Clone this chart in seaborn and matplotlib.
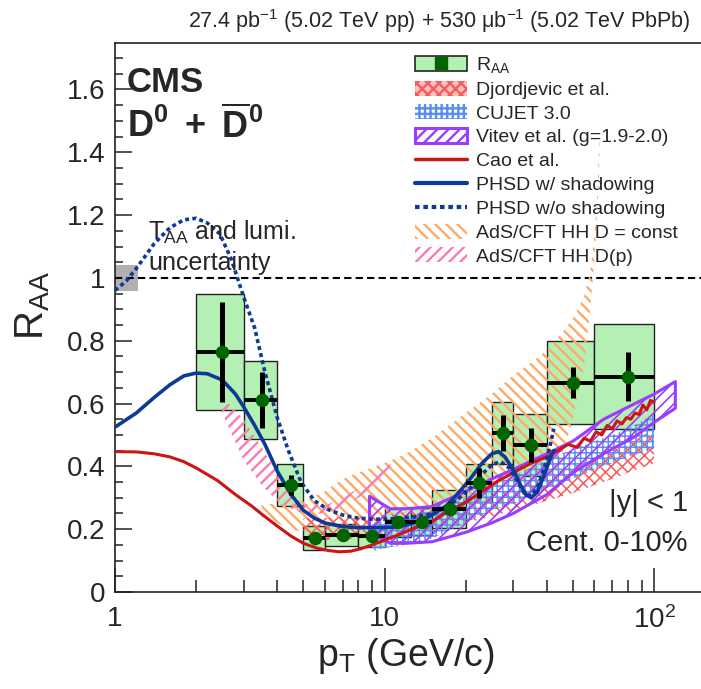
import numpy as np
import pandas as pd
import matplotlib
matplotlib.use("Agg")
import matplotlib.pyplot as plt
import seaborn as sns
from matplotlib.patches import Patch
from matplotlib.lines import Line2D
from matplotlib.ticker import FixedLocator, FixedFormatter, NullFormatter

# ---------------- data ----------------
# CMS D0 R_AA, PbPb 0-10%
pt_lo = [2, 3, 4, 5, 6, 8, 10, 12.5, 15, 20, 25, 30, 40, 60]
pt_hi = [3, 4, 5, 6, 8, 10, 12.5, 15, 20, 25, 30, 40, 60, 100]
raa = [0.764, 0.611, 0.341, 0.172, 0.180, 0.177, 0.222, 0.224, 0.265, 0.347, 0.506, 0.468, 0.667, 0.686]
raa_stat = [0.16, 0.09, 0.033, 0.01, 0.01, 0.01, 0.015, 0.015, 0.02, 0.048, 0.057, 0.054, 0.048, 0.078]
raa_syst = [0.185, 0.124, 0.067, 0.037, 0.035, 0.034, 0.046, 0.043, 0.06, 0.061, 0.1, 0.1, 0.132, 0.168]

# T_AA + lumi uncertainty box
taa_pt = [1.0, 1.215]
taa_lo = 0.958
taa_hi = 1.042

# AdS/CFT HH D = const (orange band)
ads_pt = [3.5, 4, 4.5, 5, 6, 7, 8, 10, 12, 15, 20, 25, 30, 35, 40, 45, 50, 55, 58, 60, 61.5, 62.5, 63]
ads_lo = [0.24, 0.22, 0.2, 0.19, 0.19, 0.195, 0.2, 0.21, 0.22, 0.25, 0.3, 0.33, 0.34, 0.32, 0.32, 0.42, 0.55, 0.72, 0.9, 1.05, 1.2, 1.32, 1.46]
ads_hi = [0.28, 0.28, 0.28, 0.29, 0.32, 0.36, 0.38, 0.41, 0.44, 0.49, 0.57, 0.63, 0.69, 0.73, 0.77, 0.82, 0.87, 0.94, 1.02, 1.13, 1.25, 1.42, 1.47]

# AdS/CFT HH D(p) (pink band)
adsp_pt = [2.5, 3, 3.5, 4, 4.5, 5, 6, 7, 8, 9, 10, 10.5]
adsp_lo = [0.57, 0.42, 0.34, 0.29, 0.265, 0.25, 0.25, 0.27, 0.3, 0.33, 0.36, 0.38]
adsp_hi = [0.62, 0.55, 0.46, 0.38, 0.31, 0.28, 0.275, 0.3, 0.33, 0.36, 0.39, 0.41]

# Djordjevic et al.
dj_pt = [5, 6, 7, 8, 10, 12, 15, 20, 25, 30, 40, 50, 60, 70, 80, 100]
dj_lo = [0.165, 0.165, 0.168, 0.17, 0.18, 0.19, 0.2, 0.22, 0.24, 0.26, 0.29, 0.315, 0.34, 0.36, 0.38, 0.41]
dj_hi = [0.235, 0.235, 0.24, 0.24, 0.245, 0.255, 0.27, 0.29, 0.31, 0.33, 0.37, 0.4, 0.43, 0.45, 0.47, 0.52]

# CUJET 3.0
cu_pt = [9, 10, 12, 15, 20, 25, 30, 40, 50, 60, 70, 80, 100]
cu_lo = [0.13, 0.14, 0.15, 0.17, 0.22, 0.26, 0.28, 0.33, 0.36, 0.39, 0.41, 0.43, 0.455]
cu_hi = [0.22, 0.23, 0.24, 0.26, 0.3, 0.34, 0.37, 0.42, 0.455, 0.48, 0.5, 0.52, 0.565]

# Vitev et al.
vi_pt = [8.8, 10.5, 12, 15, 20, 25, 30, 40, 50, 65, 85, 100, 120]
vi_lo = [0.19, 0.155, 0.155, 0.16, 0.19, 0.22, 0.25, 0.31, 0.38, 0.44, 0.495, 0.54, 0.585]
vi_hi = [0.305, 0.265, 0.265, 0.272, 0.32, 0.36, 0.39, 0.44, 0.48, 0.55, 0.6, 0.63, 0.67]

# Cao et al.
cao_pt = [1, 1.2, 1.4, 1.6, 1.8, 2.0, 2.4, 2.8, 3.2, 3.6, 4.0, 4.5, 5.0, 5.6, 6.2, 6.8, 7.5, 8.2, 9.0,
          10, 11.5, 13, 15, 17.5, 20, 23, 26, 30, 35, 40, 44, 48, 52, 55, 58, 61, 64, 67, 70, 73, 76,
          79, 82, 85, 88, 91, 94, 97, 100]
cao_raa = [0.447, 0.446, 0.44, 0.43, 0.415, 0.395, 0.355, 0.31, 0.275, 0.24, 0.21, 0.178, 0.155, 0.14,
           0.132, 0.128, 0.13, 0.138, 0.15, 0.165, 0.185, 0.205, 0.225, 0.26, 0.285, 0.32, 0.35, 0.38,
           0.41, 0.43, 0.45, 0.47, 0.46, 0.49, 0.48, 0.51, 0.5, 0.53, 0.52, 0.545, 0.535, 0.555, 0.55,
           0.57, 0.565, 0.595, 0.58, 0.61, 0.605]

# PHSD with shadowing
phs_pt = [1.0, 1.2, 1.4, 1.6, 1.8, 2.0, 2.2, 2.5, 2.8, 3.0, 3.3, 3.6, 4.0, 4.5, 5.0, 5.5, 6.0, 7.0, 8.0,
          9.0, 10, 11, 12, 13, 15, 17, 19, 21, 23, 25, 26.5, 28, 30, 32, 33.5, 35, 37, 39, 41, 42.5]
phs_raa = [0.525, 0.57, 0.62, 0.66, 0.688, 0.697, 0.695, 0.675, 0.63, 0.59, 0.53, 0.47, 0.385, 0.31,
           0.26, 0.235, 0.22, 0.208, 0.205, 0.205, 0.205, 0.207, 0.213, 0.222, 0.245, 0.275, 0.32,
           0.365, 0.41, 0.44, 0.447, 0.43, 0.39, 0.34, 0.31, 0.3, 0.32, 0.37, 0.42, 0.45]

# PHSD without shadowing
phn_pt = [1.0, 1.1, 1.2, 1.4, 1.6, 1.8, 2.0, 2.2, 2.45, 2.7, 3.0, 3.3, 3.6, 4.0, 4.4, 4.9, 5.5, 6.2,
          7, 8, 9, 10, 11.5, 13, 15, 17, 19, 21, 23, 25, 27, 29, 31, 33, 35, 37, 39, 41, 42.5]
phn_raa = [0.96, 0.99, 1.03, 1.11, 1.16, 1.185, 1.19, 1.175, 1.14, 1.06, 0.94, 0.84, 0.70, 0.555,
           0.45, 0.35, 0.29, 0.262, 0.245, 0.235, 0.232, 0.232, 0.235, 0.24, 0.25, 0.27, 0.3, 0.335,
           0.375, 0.405, 0.415, 0.395, 0.355, 0.315, 0.305, 0.335, 0.39, 0.46, 0.52]

xtick_vals = [1, 10, 100]
xtick_labels = ["1", "10", "$10^{2}$"]
ytick_vals = [0, 0.2, 0.4, 0.6, 0.8, 1.0, 1.2, 1.4, 1.6]
ytick_labels = ["0", "0.2", "0.4", "0.6", "0.8", "1", "1.2", "1.4", "1.6"]

# ---------------- style ----------------
sns.set_theme(style="ticks")
plt.rcParams["font.family"] = ["Liberation Sans", "DejaVu Sans"]
plt.rcParams["mathtext.fontset"] = "custom"
plt.rcParams["mathtext.rm"] = "Liberation Sans"
plt.rcParams["mathtext.it"] = "Liberation Sans:italic"
plt.rcParams["mathtext.bf"] = "Liberation Sans:bold"
plt.rcParams["mathtext.sf"] = "Liberation Sans"
plt.rcParams["mathtext.default"] = "regular"

W, H = 701, 689
fig = plt.figure(figsize=(W / 100, H / 100), dpi=100)
fx = lambda px: px / W
fy = lambda py: 1 - py / H

ax = fig.add_axes([fx(115), fy(592), fx(701) - fx(115), fy(43) - fy(592)])
ax.set_xscale("log")
ax.set_xlim(1, 149.4)
ax.set_ylim(0, 1.748)

C_BOX = "#b4f0b4"
C_MARK = "#006400"
C_ORANGE = "#fcaa68"
C_PINK = "#ff78b4"
C_RED = "#f85a5a"
C_CUJET = "#5a8cf5"
C_VITEV = "#9b3cff"
C_CAO = "#cc1515"
C_PHSD = "#0c3a94"

HATCH_ORANGE = "\\\\\\"
HATCH_PINK = "///"


def hatch_band(x, lo, hi, color, hatch, hlw, z, lw=0.0, fc="none"):
    plt.rcParams["hatch.linewidth"] = hlw
    coll = ax.fill_between(x, lo, hi, facecolor=fc, edgecolor=color, hatch=hatch,
                           linewidth=lw, zorder=z)
    if hasattr(coll, "set_hatch_linewidth"):
        coll.set_hatch_linewidth(hlw)
    return coll


# systematic boxes
lo_arr = np.array(pt_lo)
hi_arr = np.array(pt_hi)
raa_arr = np.array(raa)
syst_arr = np.array(raa_syst)
ax.bar(lo_arr, 2 * syst_arr, width=hi_arr - lo_arr, bottom=raa_arr - syst_arr, align="edge",
       color=C_BOX, edgecolor="#222222", linewidth=1.0, zorder=1)

# T_AA box and unity line
ax.fill_between(taa_pt, taa_lo, taa_hi, color="#b0b0b0", linewidth=0, zorder=1)
ax.axhline(1.0, color="black", lw=1.5, ls=(0, (3.5, 2.0)), zorder=1.5)

# theory bands
hatch_band(ads_pt, ads_lo, ads_hi, C_ORANGE, HATCH_ORANGE, 1.7, 2)
hatch_band(adsp_pt, adsp_lo, adsp_hi, C_PINK, HATCH_PINK, 1.7, 2.1)
hatch_band(dj_pt, dj_lo, dj_hi, C_RED, "xxx", 1.1, 2.2)
hatch_band(cu_pt, cu_lo, cu_hi, C_CUJET, "+++", 1.1, 2.3)
hatch_band(vi_pt, vi_lo, vi_hi, C_VITEV, "///", 1.2, 2.4, lw=2.2)

# theory curves
sns.lineplot(x=cao_pt, y=cao_raa, ax=ax, color=C_CAO, lw=2.2, estimator=None, sort=False, zorder=4)
sns.lineplot(x=phs_pt, y=phs_raa, ax=ax, color=C_PHSD, lw=2.6, estimator=None, sort=False, zorder=4)
sns.lineplot(x=phn_pt, y=phn_raa, ax=ax, color=C_PHSD, lw=2.6, estimator=None, sort=False,
             linestyle=(0, (1.1, 0.9)), zorder=4)

# data points
ptc = (lo_arr + hi_arr) / 2
ax.errorbar(ptc, raa_arr, xerr=[ptc - lo_arr, hi_arr - ptc], fmt="none", ecolor="black",
            elinewidth=2.8, capsize=0, zorder=5)
ax.errorbar(ptc, raa_arr, yerr=raa_stat, fmt="none", ecolor="black", elinewidth=3.6,
            capsize=0, zorder=5)
sns.scatterplot(x=ptc, y=raa_arr, ax=ax, marker="o", s=95, color=C_MARK, edgecolor=C_MARK,
                linewidth=0, zorder=6)

# axes styling
for s in ["left", "bottom", "top"]:
    ax.spines[s].set_linewidth(1.2)
    ax.spines[s].set_color("#222222")
ax.spines["right"].set_visible(False)

ax.xaxis.set_major_locator(FixedLocator(xtick_vals))
ax.xaxis.set_major_formatter(FixedFormatter(xtick_labels))
minors = [m * d for d in [1, 10] for m in range(2, 10)]
ax.xaxis.set_minor_locator(FixedLocator(minors))
ax.xaxis.set_minor_formatter(NullFormatter())
ax.yaxis.set_major_locator(FixedLocator(ytick_vals))
ax.yaxis.set_major_formatter(FixedFormatter(ytick_labels))
ax.yaxis.set_minor_locator(FixedLocator(list(np.arange(0.05, 1.75, 0.05))))
ax.tick_params(which="both", direction="in", top=False, right=False, color="#222222", width=1.1)
ax.tick_params(axis="x", which="major", length=17, pad=10, labelsize=20)
ax.tick_params(axis="x", which="minor", length=9)
ax.tick_params(axis="y", which="major", length=12, pad=7, labelsize=20)
ax.tick_params(axis="y", which="minor", length=6)
ax.set_xlabel("")
ax.set_ylabel("")

# legend
legend_handles = [
    (Patch(facecolor=C_BOX, edgecolor="#222222", linewidth=1.2),
     Line2D([], [], marker="s", ms=8, color=C_MARK, ls="none")),
]
plt.rcParams["hatch.linewidth"] = 1.1
legend_handles += [
    Patch(facecolor="#ffc0c0", edgecolor=C_RED, hatch="xxx", linewidth=0),
    Patch(facecolor="none", edgecolor=C_CUJET, hatch="+++", linewidth=0),
    Patch(facecolor="none", edgecolor=C_VITEV, hatch="///", linewidth=2.2),
    Line2D([], [], color=C_CAO, lw=2.5),
    Line2D([], [], color=C_PHSD, lw=3),
    Line2D([], [], color=C_PHSD, lw=3, ls=(0, (1.1, 0.9))),
]
plt.rcParams["hatch.linewidth"] = 1.7
legend_handles += [
    Patch(facecolor="none", edgecolor=C_ORANGE, hatch=HATCH_ORANGE, linewidth=0),
    Patch(facecolor="none", edgecolor=C_PINK, hatch=HATCH_PINK, linewidth=0),
]
legend_labels = ["R$_{AA}$", "Djordjevic et al.", "CUJET 3.0", "Vitev et al. (g=1.9-2.0)",
                 "Cao et al.", "PHSD w/ shadowing", "PHSD w/o shadowing",
                 "AdS/CFT HH D = const", "AdS/CFT HH D(p)"]
leg = ax.legend(legend_handles, legend_labels, loc="upper left",
                bbox_to_anchor=(fx(415), fy(55)), bbox_transform=fig.transFigure,
                frameon=False, borderpad=0, borderaxespad=0, fontsize=14,
                handlelength=2.65, handleheight=0.8, handletextpad=0.5, labelspacing=0.29)
leg.set_zorder(0.5)

# texts
fig.text(fx(690), fy(21), "27.4 pb$^{-1}$ (5.02 TeV pp) + 530 μb$^{-1}$ (5.02 TeV PbPb)",
         ha="right", va="center", fontsize=15.5)
fig.text(fx(127), fy(82), "CMS", ha="left", va="center", fontsize=25, fontweight="bold")
fig.text(fx(127), fy(126), r"$\mathbf{D^{0}\ +\ \overline{D}^{0}}$", ha="left", va="center",
         fontsize=26)
fig.text(fx(148), fy(240), "T$_{AA}$ and lumi.", ha="left", va="baseline", fontsize=18)
fig.text(fx(148), fy(270), "uncertainty", ha="left", va="baseline", fontsize=18)
fig.text(fx(688), fy(503), "|y| < 1", ha="right", va="center", fontsize=21)
fig.text(fx(688), fy(543), "Cent. 0-10%", ha="right", va="center", fontsize=21)
fig.text(fx(33), fy(305), "R$_{AA}$", ha="center", va="center", rotation=90, fontsize=29)
fig.text(fx(406), fy(656), "p$_{T}$ (GeV/c)", ha="center", va="center", fontsize=27)

fig.savefig("out.png", dpi=100)
